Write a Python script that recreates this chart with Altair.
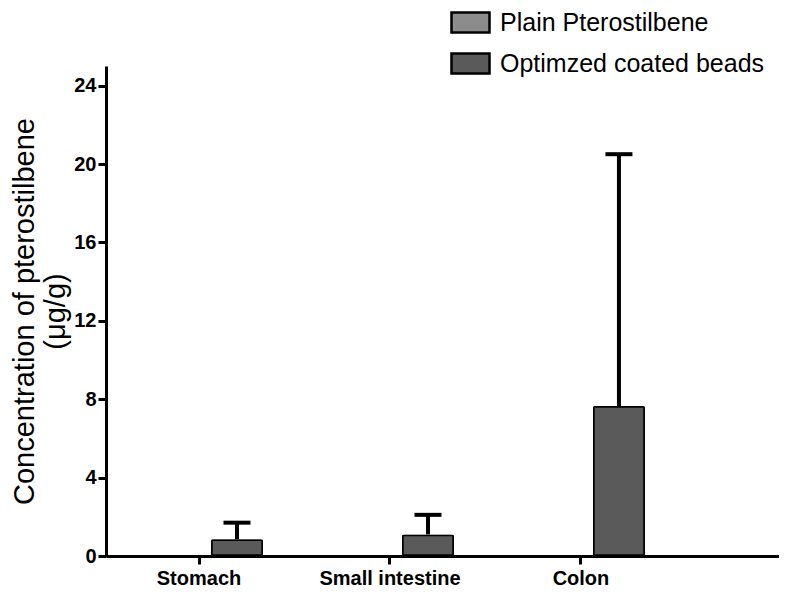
import altair as alt
import pandas as pd

categories = ["Stomach", "Small intestine", "Colon"]
series = ["Plain Pterostilbene", "Optimzed coated beads"]
plain_mean = [0.0, 0.0, 0.0]
plain_sd = [0.0, 0.0, 0.0]
coated_mean = [0.85, 1.1, 7.65]
coated_sd = [0.85, 1.0, 12.85]
y_ticks = [0, 4, 8, 12, 16, 20, 24]

rows = []
for i, c in enumerate(categories):
    rows.append({"organ": c, "series": series[0], "mean": plain_mean[i],
                 "upper": plain_mean[i] + plain_sd[i], "sd": plain_sd[i]})
    rows.append({"organ": c, "series": series[1], "mean": coated_mean[i],
                 "upper": coated_mean[i] + coated_sd[i], "sd": coated_sd[i]})
df = pd.DataFrame(rows)

FONT = "Liberation Sans"

x_enc = alt.X("organ:N", sort=categories,
              scale=alt.Scale(domain=categories, paddingInner=0.33, paddingOuter=0.427, align=0.178),
              axis=alt.Axis(title=None, labelAngle=0, labelFontSize=20, labelFontWeight="bold",
                            labelFont=FONT, labelColor="black", labelPadding=4,
                            tickSize=8, tickWidth=3, tickColor="black",
                            domainWidth=3, domainColor="black", grid=False))
xo_enc = alt.XOffset("series:N", sort=series,
                     scale=alt.Scale(domain=series, paddingInner=0.316, paddingOuter=0))
y_scale = alt.Scale(domain=[0, 25], nice=False)

bars = alt.Chart(df).mark_bar(stroke="black", strokeWidth=3.5, cornerRadius=2).encode(
    x=x_enc,
    xOffset=xo_enc,
    y=alt.Y("mean:Q", scale=y_scale,
            axis=alt.Axis(values=y_ticks, title=["Concentration of pterostilbene", "(μg/g)"],
                          titleFontSize=29, titleFontWeight="normal", titleFont=FONT,
                          titleColor="black", titlePadding=3, titleLineHeight=31,
                          labelFontSize=20, labelFontWeight="bold", labelFont=FONT,
                          labelColor="black", labelPadding=2,
                          tickSize=8, tickWidth=3, tickColor="black",
                          domainWidth=3, domainColor="black", grid=False)),
    color=alt.Color("series:N", sort=series,
                    scale=alt.Scale(domain=series, range=["#8c8c8c", "#5a5a5a"]),
                    legend=alt.Legend(title=None, orient="none", legendX=352, legendY=-56,
                                      symbolType="M-1.9,-1L1.9,-1L1.9,1L-1.9,1Z",
                                      symbolSize=400, symbolStrokeColor="black",
                                      symbolStrokeWidth=2.5, labelFontSize=25, labelFont=FONT,
                                      labelColor="black", labelOffset=17, rowPadding=10,
                                      labelLimit=0, padding=0)),
    strokeOpacity=alt.condition("datum.mean > 0", alt.value(1), alt.value(0)),
)

err = alt.Chart(df).transform_filter("datum.sd > 0")

rules = err.mark_rule(color="black", strokeWidth=4).encode(
    x=x_enc, xOffset=xo_enc, y=alt.Y("mean:Q", scale=y_scale), y2="upper:Q")
caps = err.mark_tick(color="black", thickness=4, size=27, opacity=1).encode(
    x=x_enc, xOffset=xo_enc, y=alt.Y("upper:Q", scale=y_scale))

chart = alt.layer(rules, bars, caps).properties(
    width=673, height=490,
    background="white",
    autosize=alt.AutoSizeParams(type="none"),
    padding={"left": 98, "top": 58, "right": 0, "bottom": 31},
).configure_view(stroke=None)

chart.save("out.html", embed_options={"renderer": "svg", "actions": False})
